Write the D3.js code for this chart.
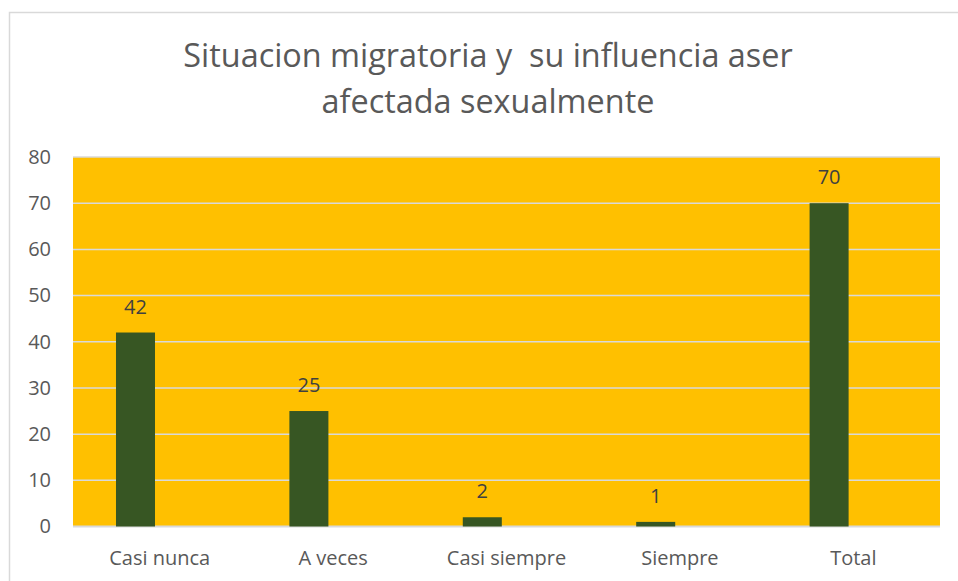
<!DOCTYPE html>
<html>
<head>
<meta charset="utf-8">
<script src="https://cdn.jsdelivr.net/npm/d3@7"></script>
<style>
  html, body { margin: 0; padding: 0; background: #fff; }
  svg { display: block; }
</style>
</head>
<body>
<svg id="chart" width="958" height="581"></svg>
<script>
// Data
const categories = ['Casi nunca', 'A veces', 'Casi siempre', 'Siempre', 'Total'];
const values = [42, 25, 2, 1, 70];
const yTicks = [0, 10, 20, 30, 40, 50, 60, 70, 80];
// Excel leaves room for an empty second series, so bars sit left of centre
const series = ['Frecuencia', 'vacio'];
const titleLines = ['Situacion migratoria y  su influencia aser', 'afectada sexualmente'];

// Configuration
const fontFamily = '"Open Sans", "Noto Sans", sans-serif';
const colorPlot = '#FFC000';
const colorBar = '#375623';
const colorGrid = '#D9D9D9';
const colorText = '#595959';
const colorLabel = '#404040';

const margin = { top: 157, right: 18, bottom: 55, left: 73 };
const width = 958;
const height = 581;

const svg = d3.select('#chart');

// chart frame
svg.append('rect')
    .attr('x', 9.5).attr('y', 12.5)
    .attr('width', 980).attr('height', 600)
    .attr('fill', '#fff')
    .attr('stroke', colorGrid)
    .attr('stroke-width', 1.5);

const x = d3.scaleBand()
    .domain(categories)
    .range([margin.left, width - margin.right]);

const xInner = d3.scaleBand()
    .domain(series)
    .range([0, x.bandwidth()])
    .paddingInner(0.194)
    .paddingOuter(0.888);

const y = d3.scaleLinear()
    .domain([0, 80])
    .range([height - margin.bottom + 0.5, margin.top]);

// plot background
svg.append('rect')
    .attr('x', margin.left)
    .attr('y', y(80))
    .attr('width', width - margin.right - margin.left)
    .attr('height', y(0) - y(80))
    .attr('fill', colorPlot);

// gridlines
svg.append('g')
    .selectAll('line')
    .data(yTicks)
    .join('line')
    .attr('x1', margin.left)
    .attr('x2', width - margin.right)
    .attr('y1', d => y(d))
    .attr('y2', d => y(d))
    .attr('stroke', colorGrid)
    .attr('stroke-width', d => d === 0 ? 2 : 1.5);

// y axis labels
const yAxis = svg.append('g')
    .attr('transform', `translate(${margin.left - 22},0)`)
    .call(d3.axisLeft(y).tickValues(yTicks).tickSize(0).tickPadding(0));
yAxis.select('.domain').remove();
yAxis.selectAll('text')
    .attr('font-family', fontFamily)
    .attr('font-size', 20)
    .attr('fill', colorText);

// x axis labels
const xAxis = svg.append('g')
    .attr('transform', `translate(0,${y(0)})`)
    .call(d3.axisBottom(x).tickSize(0).tickPadding(24));
xAxis.select('.domain').remove();
xAxis.selectAll('text')
    .attr('font-family', fontFamily)
    .attr('font-size', 20)
    .attr('fill', colorText);

// bars
svg.append('g')
    .selectAll('rect')
    .data(values)
    .join('rect')
    .attr('x', (d, i) => x(categories[i]) + xInner(series[0]))
    .attr('y', d => y(d))
    .attr('width', xInner.bandwidth())
    .attr('height', d => y(0) - y(d))
    .attr('fill', colorBar);

// value labels
svg.append('g')
    .selectAll('text')
    .data(values)
    .join('text')
    .attr('x', (d, i) => x(categories[i]) + xInner(series[0]) + xInner.bandwidth() / 2)
    .attr('y', d => y(d) - 19)
    .attr('text-anchor', 'middle')
    .attr('font-family', fontFamily)
    .attr('font-size', 20)
    .attr('fill', colorLabel)
    .text(d => d);

// title
svg.append('text')
    .attr('x', 488)
    .attr('y', 67)
    .attr('text-anchor', 'middle')
    .attr('font-family', fontFamily)
    .attr('font-size', 32.4)
    .attr('fill', colorText)
    .style('white-space', 'pre')
    .selectAll('tspan')
    .data(titleLines)
    .join('tspan')
    .attr('x', 488)
    .attr('dy', (d, i) => i === 0 ? 0 : 46)
    .text(d => d);
</script>
</body>
</html>
